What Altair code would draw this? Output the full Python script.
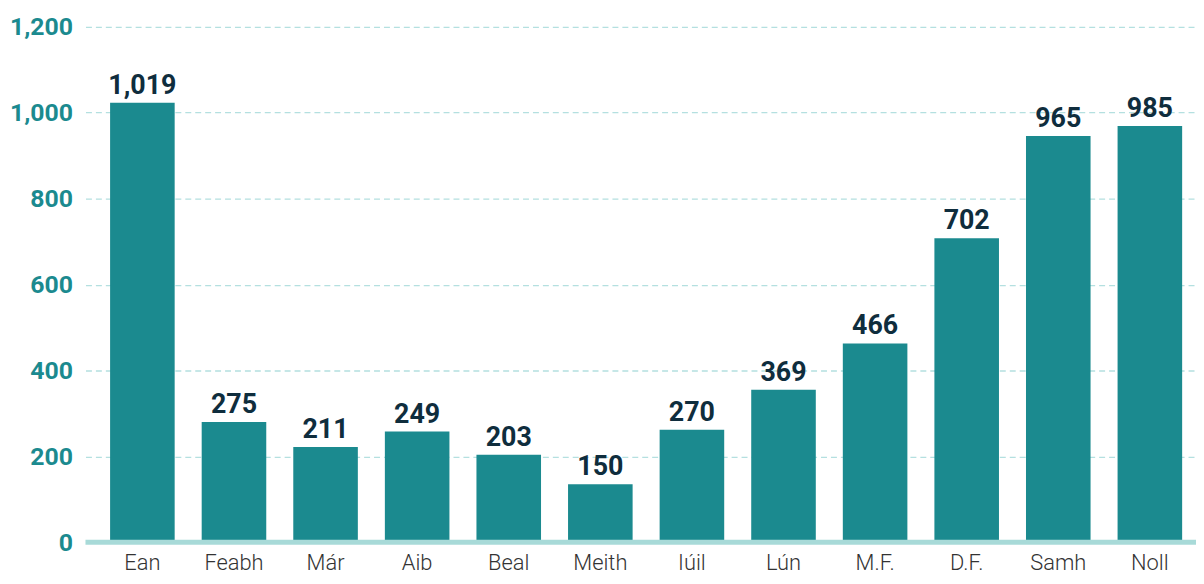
import altair as alt
import pandas as pd

months = ["Ean", "Feabh", "Már", "Aib", "Beal", "Meith", "Iúil", "Lún", "M.F.", "D.F.", "Samh", "Noll"]
bar_values = [1023, 280, 222, 258, 204, 135, 262, 355, 463, 708, 946, 969]
label_values = [1019, 275, 211, 249, 203, 150, 270, 369, 466, 702, 965, 985]
y_ticks = [0, 200, 400, 600, 800, 1000, 1200]

df = pd.DataFrame({
    "month": months,
    "value": bar_values,
    "label": [f"{v:,}" for v in label_values],
})

TEAL = "#1b8a8f"

x = alt.X("month:N", sort=months, title=None,
          scale=alt.Scale(paddingInner=0.295, paddingOuter=0.21, align=0.64),
          axis=alt.Axis(labelAngle=0, labelFont="Roboto", labelFontWeight=300,
                        labelFontSize=22, labelColor="#333333", labelPadding=10,
                        ticks=False, domain=False, grid=False))
y = alt.Y("value:Q", title=None,
          scale=alt.Scale(domain=[0, 1200], nice=False),
          axis=alt.Axis(values=y_ticks, format=",.0f", labelFont="Roboto",
                        labelFontWeight="bold", labelFontSize=25, labelColor=TEAL,
                        labelPadding=13, ticks=False, domain=False,
                        grid=True, gridColor="#b4e0e0", gridDash=[6, 4], gridWidth=1.3))

base = alt.Chart(df)

bars = base.mark_bar(color=TEAL).encode(x=x, y=y)

texts = base.mark_text(font="Roboto", fontWeight="bold", fontSize=27, color="#0f2d3d",
                       baseline="alphabetic", dy=-9).encode(
    x=alt.X("month:N", sort=months), y="value:Q", text="label:N")

zero = alt.Chart(pd.DataFrame({"z": [0]})).mark_rule(color="#a8dad8", strokeWidth=5).encode(
    y="z:Q", x=alt.value(0), x2=alt.value(1118))

chart = alt.layer(bars, texts, zero).properties(
    width=1118, height=519,
    padding={"left": 78, "top": 17, "right": 0, "bottom": 38},
    autosize=alt.AutoSizeParams(type="none"),
).configure_view(stroke=None)

chart.save("out.html", embed_options={"renderer": "svg", "actions": False})
